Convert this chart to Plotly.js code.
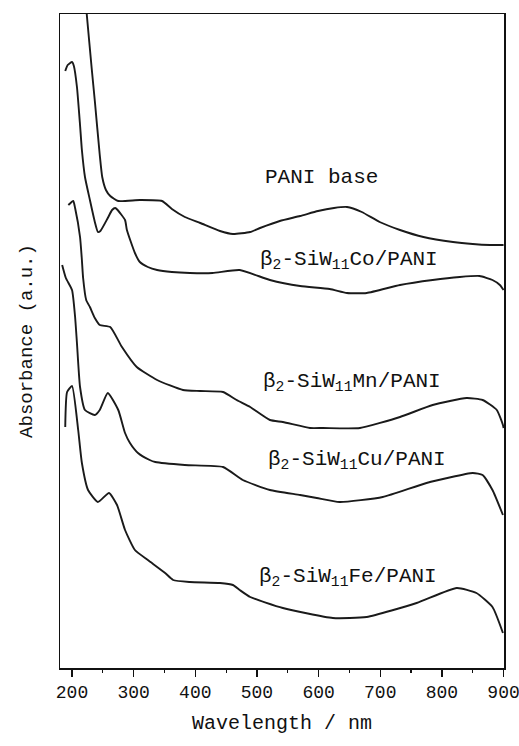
<!DOCTYPE html>
<html>
<head>
<meta charset="utf-8">
<script src="https://cdn.plot.ly/plotly-3.0.1.min.js"></script>
<style>
  html, body { margin: 0; padding: 0; background: #fff; }
  #chart { width: 519px; height: 746px; }
</style>
</head>
<body>
<div id="chart"></div>
<script>
// UV-vis absorption spectra, stacked (arbitrary absorbance units)
const wlPani = [222, 224, 232, 237, 245, 249, 255, 262, 275, 310, 346, 362, 383, 408, 440, 461, 489, 505, 537, 570, 599, 625, 646, 670, 699, 732, 770, 818, 850, 878, 900];
const absPani = [3.34, 3.265, 2.995, 2.835, 2.565, 2.455, 2.39, 2.36, 2.335, 2.34, 2.335, 2.295, 2.255, 2.225, 2.185, 2.17, 2.18, 2.2, 2.235, 2.26, 2.285, 2.3, 2.305, 2.28, 2.23, 2.19, 2.155, 2.13, 2.12, 2.115, 2.115];

const wlCo = [189, 193, 200, 203, 208, 213, 216, 221, 229, 237, 242, 246, 258, 265, 270, 274, 286, 289, 302, 310, 323, 338, 362, 391, 428, 472, 521, 570, 618, 646, 678, 732, 785, 829, 861, 882, 894, 900];
const absCo = [2.985, 3.015, 3.03, 3.01, 2.905, 2.715, 2.59, 2.455, 2.34, 2.23, 2.18, 2.185, 2.25, 2.29, 2.3, 2.29, 2.24, 2.19, 2.075, 2.03, 2.005, 1.99, 1.98, 1.975, 1.975, 1.99, 1.94, 1.91, 1.895, 1.875, 1.875, 1.915, 1.94, 1.955, 1.96, 1.94, 1.915, 1.89];

const wlMn = [194, 202, 205, 213, 216, 218, 223, 229, 237, 245, 262, 281, 305, 338, 380, 408, 445, 467, 489, 521, 542, 586, 607, 667, 732, 785, 840, 866, 889, 899, 900];
const absMn = [2.315, 2.335, 2.3, 2.155, 2.04, 1.95, 1.84, 1.805, 1.75, 1.715, 1.705, 1.605, 1.505, 1.44, 1.39, 1.385, 1.38, 1.34, 1.305, 1.24, 1.23, 1.2, 1.2, 1.2, 1.255, 1.315, 1.35, 1.34, 1.29, 1.215, 1.2];

const wlCu = [184, 190, 200, 205, 208, 213, 221, 237, 245, 258, 275, 286, 294, 307, 326, 335, 383, 445, 477, 521, 570, 597, 634, 704, 775, 850, 866, 882, 899];
const absCu = [2.015, 1.95, 1.89, 1.755, 1.625, 1.405, 1.29, 1.265, 1.29, 1.375, 1.29, 1.175, 1.125, 1.075, 1.04, 1.03, 1.015, 1.005, 0.94, 0.89, 0.865, 0.85, 0.83, 0.855, 0.925, 0.975, 0.965, 0.89, 0.765];

const wlFe = [189, 192, 200, 210, 216, 226, 242, 260, 273, 286, 302, 323, 351, 364, 391, 440, 461, 472, 489, 542, 623, 678, 759, 824, 856, 882, 899];
const absFe = [1.205, 1.38, 1.41, 1.19, 1.025, 0.89, 0.83, 0.875, 0.815, 0.69, 0.59, 0.54, 0.475, 0.44, 0.43, 0.425, 0.415, 0.39, 0.355, 0.3, 0.25, 0.255, 0.325, 0.4, 0.375, 0.305, 0.175];

const seriesNames = [
  'PANI base',
  'β<sub>2</sub>-SiW<sub>11</sub>Co/PANI',
  'β<sub>2</sub>-SiW<sub>11</sub>Mn/PANI',
  'β<sub>2</sub>-SiW<sub>11</sub>Cu/PANI',
  'β<sub>2</sub>-SiW<sub>11</sub>Fe/PANI'
];

const tickValues = [200, 300, 400, 500, 600, 700, 800, 900];

const xs = [wlPani, wlCo, wlMn, wlCu, wlFe];
const ys = [absPani, absCo, absMn, absCu, absFe];

const lineStyle = { color: '#1a1a1a', width: 1.9, shape: 'spline', smoothing: 0.5 };

const traces = xs.map((x, i) => ({
  type: 'scatter',
  mode: 'lines',
  x: x,
  y: ys[i],
  name: seriesNames[i],
  line: lineStyle,
  hoverinfo: 'skip'
}));

// label anchor points (wavelength, absorbance) for each spectrum
const labelPos = [
  [605, 2.455],
  [650, 2.04],
  [654, 1.43],
  [662, 1.04],
  [647, 0.455]
];

const mono = 'Liberation Mono, DejaVu Sans Mono, monospace';

const annotations = seriesNames.map((t, i) => ({
  text: t,
  x: labelPos[i][0],
  y: labelPos[i][1],
  xref: 'x',
  yref: 'y',
  showarrow: false,
  font: { family: mono, size: 21, color: '#111' }
}));

const layout = {
  width: 519,
  height: 746,
  margin: { l: 60, r: 15, t: 14, b: 78 },
  paper_bgcolor: '#fff',
  plot_bgcolor: '#fff',
  showlegend: false,
  annotations: annotations,
  xaxis: {
    range: [180.5, 900.7],
    tickmode: 'array',
    tickvals: tickValues,
    ticktext: tickValues.map(String),
    ticklabeloverflow: 'allow',
    ticks: 'outside',
    ticklen: 7,
    tickwidth: 1.5,
    tickcolor: '#111',
    minor: { dtick: 50, tick0: 0, ticks: 'outside', ticklen: 3, tickwidth: 1.2, tickcolor: '#111' },
    showgrid: false,
    zeroline: false,
    showline: true,
    linecolor: '#111',
    linewidth: 1.5,
    mirror: true,
    tickfont: { family: mono, size: 18, color: '#111' },
    title: { text: 'Wavelength / nm', font: { family: mono, size: 20, color: '#111' }, standoff: 13 }
  },
  yaxis: {
    range: [0, 3.27],
    showticklabels: false,
    ticks: '',
    showgrid: false,
    zeroline: false,
    showline: true,
    linecolor: '#111',
    linewidth: 1.5,
    mirror: true,
    title: { text: 'Absorbance (a.u.)', font: { family: mono, size: 19, color: '#111' }, standoff: 21 }
  }
};

Plotly.newPlot('chart', traces, layout, { staticPlot: true, displayModeBar: false });
</script>
</body>
</html>
